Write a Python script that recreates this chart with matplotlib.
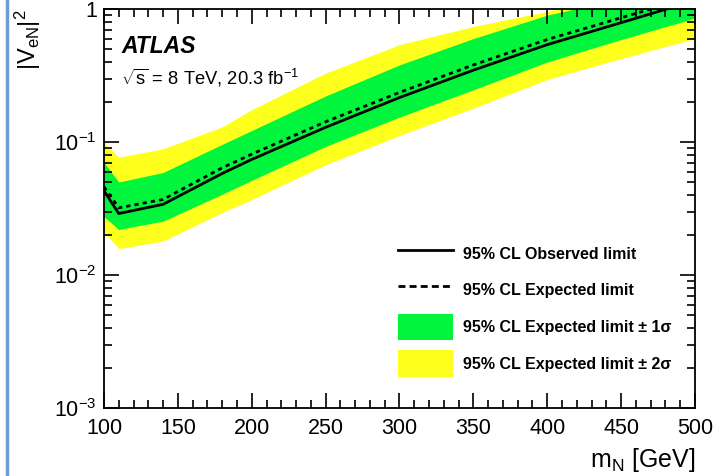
import numpy as np
import matplotlib

matplotlib.use('Agg')

import matplotlib.pyplot as plt
from matplotlib.lines import Line2D
from matplotlib.patches import Patch
from matplotlib.ticker import FixedLocator, FixedFormatter, MultipleLocator

# heavy neutrino mass points [GeV]
mass = [100, 110, 140, 180, 200, 250, 300, 350, 400, 450, 500]

# 95% CL limits on |V_eN|^2
observed = [0.043, 0.029, 0.034, 0.058, 0.074, 0.129, 0.216, 0.347, 0.54, 0.79, 1.16]
expected = [0.046, 0.032, 0.037, 0.064, 0.081, 0.142, 0.236, 0.38, 0.59, 0.86, 1.25]
plus1 = [0.070, 0.050, 0.059, 0.096, 0.122, 0.222, 0.38, 0.60, 0.90, 1.2, 1.6]
minus1 = [0.0275, 0.022, 0.0254, 0.0405, 0.0515, 0.0927, 0.154, 0.247, 0.40, 0.59, 0.855]
plus2 = [0.0995, 0.077, 0.089, 0.13, 0.175, 0.33, 0.54, 0.74, 0.96, 1.3, 1.6]
minus2 = [0.0209, 0.0158, 0.018, 0.0295, 0.037, 0.0675, 0.112, 0.18, 0.295, 0.425, 0.60]

ytick_vals = [1e-3, 1e-2, 1e-1, 1]
ytick_labels = [r'$10^{-3}$', r'$10^{-2}$', r'$10^{-1}$', '1']
xtick_vals = [100, 150, 200, 250, 300, 350, 400, 450, 500]

legend_labels = ['95% CL Observed limit',
                 '95% CL Expected limit',
                 u'95% CL Expected limit \u00b1 1\u03c3',
                 u'95% CL Expected limit \u00b1 2\u03c3']

green = '#00f53c'
yellow = '#ffff1e'

plt.rcParams['font.family'] = ['Liberation Sans', 'DejaVu Sans']
plt.rcParams['mathtext.fontset'] = 'custom'
plt.rcParams['mathtext.rm'] = 'Liberation Sans'
plt.rcParams['mathtext.it'] = 'Liberation Sans:italic'
plt.rcParams['mathtext.bf'] = 'Liberation Sans:bold'

fig = plt.figure(figsize=(7.18, 4.76), dpi=100)
ax = fig.add_axes([0.1448, 0.1429, 0.8232, 0.8381])

# bands
ax.fill_between(mass, minus2, plus2, color=yellow, lw=0)
ax.fill_between(mass, minus1, plus1, color=green, lw=0)

# limits
ax.plot(mass, expected, color='black', lw=2, ls=(0, (1.5, 1.5)))
ax.plot(mass, observed, color='black', lw=2)

ax.set_yscale('log')
ax.set_xlim(100, 500)
ax.set_ylim(1e-3, 1)

ax.yaxis.set_major_locator(FixedLocator(ytick_vals))
ax.yaxis.set_major_formatter(FixedFormatter(ytick_labels))
ax.xaxis.set_major_locator(FixedLocator(xtick_vals))
ax.xaxis.set_minor_locator(MultipleLocator(10))

ax.tick_params(which='both', direction='in', top=True, right=True, width=1.2)
ax.tick_params(which='major', length=11, labelsize=15.5)
ax.tick_params(axis='x', which='major', pad=7)
ax.tick_params(axis='y', which='major', pad=5)
ax.tick_params(which='minor', length=6)
for s in ax.spines.values():
    s.set_linewidth(1.3)

ax.set_xlabel(r'm$_\mathrm{N}$ [GeV]', fontsize=18, loc='right', labelpad=5)
ax.set_ylabel(r'|V$_\mathrm{eN}$|$^2$', fontsize=17, loc='top', labelpad=8)

ax.text(0.03, 0.907, 'ATLAS', transform=ax.transAxes, fontsize=16.5,
        fontweight='bold', style='italic', va='center')
ax.text(0.028, 0.828, r'$\sqrt{\mathrm{s}}$ = 8 TeV, 20.3 fb$^{-1}$',
        transform=ax.transAxes, fontsize=13.2, va='center')

# legend
handles = [Line2D([], [], color='black', lw=2),
           Line2D([], [], color='black', lw=2, ls=(0, (2.5, 1.5))),
           Patch(facecolor=green, edgecolor='none'),
           Patch(facecolor=yellow, edgecolor='none')]
leg = ax.legend(handles, legend_labels, loc='upper left',
                bbox_to_anchor=(0.498, 0.42), frameon=False,
                prop={'size': 11.5, 'weight': 'bold'}, borderpad=0,
                borderaxespad=0, handlelength=3.45, handleheight=2.2,
                labelspacing=0.62, handletextpad=0.6)

# blue page edge on the left
fig.add_artist(Line2D([0.01, 0.01], [0, 1], color='#6a9fd8', lw=2.5,
                      transform=fig.transFigure))

plt.savefig('out.png', dpi=100)
plt.close()
